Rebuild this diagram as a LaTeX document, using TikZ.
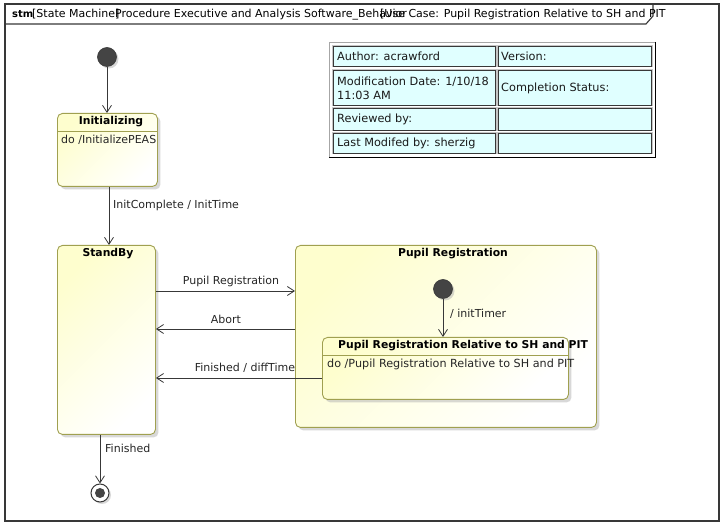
\documentclass[tikz,border=0pt]{standalone}
\usepackage{fontspec}
\setmainfont{DejaVu Sans}
\newfontfamily\thinfont{DejaVu Sans}
\usetikzlibrary{arrows.meta,shadows,calc}
\definecolor{statey}{HTML}{FEFECE}
\definecolor{stateb}{HTML}{A0A050}
\definecolor{linec}{HTML}{383838}
\definecolor{cellc}{HTML}{E0FFFF}
\definecolor{dotc}{HTML}{444444}
\begin{document}
\begin{tikzpicture}[x=1pt,y=-1pt,
  statebox/.style={draw=stateb, line width=0.9pt, rounded corners=5pt,
    top color=statey, bottom color=white, shading angle=45,
    drop shadow={shadow xshift=3pt, shadow yshift=-3pt, fill=black!30, opacity=0.5},
    inner sep=0pt, anchor=north west},
  initdot/.style={circle, fill=dotc, draw=linec, line width=0.6pt, minimum size=19pt, inner sep=0pt,
    drop shadow={shadow xshift=2pt, shadow yshift=-2pt, fill=black!30, opacity=0.5}},
  finalout/.style={circle, fill=white, draw=linec, line width=1pt, minimum size=18pt, inner sep=0pt,
    drop shadow={shadow xshift=2pt, shadow yshift=-2pt, fill=black!30, opacity=0.5}},
  finalin/.style={circle, fill=dotc, minimum size=10pt, inner sep=0pt},
  tr/.style={draw=linec, line width=0.8pt, -{Straight Barb[length=7pt,width=9pt]}},
  lbl/.style={font=\fontsize{11}{13}\selectfont, inner sep=0pt, text=black!85},
  ttl/.style={font=\bfseries\fontsize{10.8}{12}\selectfont, inner sep=0pt},
  sep/.style={draw=stateb, line width=0.8pt},
  hdr/.style={font=\fontsize{11}{13}\selectfont, inner sep=0pt, anchor=base west},
  frame/.style={draw=linec, line width=1.1pt},
  cell/.style={draw=linec, fill=cellc, line width=0.8pt, inner sep=0pt, anchor=north west,
    preaction={draw=gray!45, line width=2.2pt}},
  tbltxt/.style={font=\thinfont\fontsize{11.3}{14}\selectfont, anchor=west, inner sep=0pt, align=left, text=black!90}
]
\useasboundingbox (0,0) rectangle (724,526);
\fill[white] (0,0) rectangle (724,526);

% frame and header
\draw[frame] (5,4) rectangle (719,521);
\draw[frame] (5,24) -- (646,24) -- (653,16) -- (653,4);
\node[hdr, font=\bfseries\fontsize{10}{12}\selectfont] (stm) at (12,18) {stm};
\node[hdr] (h1) at (32,18) {[State Machine]};
\node[hdr] (h2) at (115,18) {Procedure Executive and Analysis Software\_Behavior};
\node[hdr] (h3) at (380,18) {[Use Case: Pupil Registration Relative to SH and PIT};

% info table
\node[fill=white, minimum width=326pt, minimum height=115pt, inner sep=0pt, anchor=north west] (tbl) at (329,42) {};
\draw[gray!70, line width=0.8pt] (tbl.south west) -- (tbl.north west) -- (tbl.north east);
\draw[black, line width=1pt] (tbl.north east) -- (tbl.south east) -- (tbl.south west);
\node[cell, minimum width=162pt, minimum height=20pt] (c11) at (333,46) {};
\node[cell, minimum width=153pt, minimum height=20pt] (c12) at (498,46) {};
\node[cell, minimum width=162pt, minimum height=35pt] (c21) at (333,70) {};
\node[cell, minimum width=153pt, minimum height=35pt] (c22) at (498,70) {};
\node[cell, minimum width=162pt, minimum height=22pt] (c31) at (333,108) {};
\node[cell, minimum width=153pt, minimum height=22pt] (c32) at (498,108) {};
\node[cell, minimum width=162pt, minimum height=20pt] (c41) at (333,133) {};
\node[cell, minimum width=153pt, minimum height=20pt] (c42) at (498,133) {};
\node[tbltxt] (t11) at ($(c11.west)+(4,0)$) {Author: acrawford};
\node[tbltxt] (t12) at ($(c12.west)+(3,0)$) {Version:};
\node[tbltxt] (t21) at ($(c21.west)+(4,0)$) {Modification Date: 1/10/18\\11:03 AM};
\node[tbltxt] (t22) at ($(c22.west)+(3,0)$) {Completion Status:};
\node[tbltxt] (t31) at ($(c31.west)+(4,0)$) {Reviewed by:};
\node[tbltxt] (t41) at ($(c41.west)+(4,0)$) {Last Modifed by: sherzig};

% states
\node[initdot] (i1) at (107,57) {};
\node[statebox, minimum width=100pt, minimum height=73pt] (initz) at (57,113) {};
\node[ttl] (initzt) at (111,122) {Initializing};
\draw[sep] (initz.west |- 0,131) -- (initz.east |- 0,131);
\node[lbl, anchor=west] (initzd) at (61,140) {do /InitializePEAS};

\node[statebox, minimum width=98pt, minimum height=189pt] (sb) at (57,245) {};
\node[ttl] (sbt) at (108,254) {StandBy};

\node[statebox, minimum width=301pt, minimum height=182pt] (pr) at (295,245) {};
\node[ttl] (prt) at (453,254) {Pupil Registration};
\node[initdot] (i2) at (443,289) {};
\node[statebox, minimum width=246pt, minimum height=62pt] (rel) at (322,337) {};
\node[ttl, anchor=west] (relt) at (338,346) {Pupil Registration Relative to SH and PIT};
\draw[sep] (rel.west |- 0,355) -- (rel.east |- 0,355);
\node[lbl, anchor=west, font=\fontsize{11.2}{13}\selectfont] (reld) at (327,364) {do /Pupil Registration Relative to SH and PIT};

\node[finalout] (fin) at (100,493) {};
\node[finalin] (find) at (fin) {};

% transitions
\draw[tr] (i1) -- (initz.north -| i1);
\draw[tr] (initz.south -| 109,0) -- (sb.north -| 109,0);
\node[lbl, anchor=west] (l1) at (113,205) {InitComplete / InitTime};
\draw[tr] (sb.east |- 0,291) -- (pr.west |- 0,291);
\node[lbl] (l2) at (231,281) {Pupil Registration};
\draw[tr] (pr.west |- 0,329) -- (sb.east |- 0,329);
\node[lbl] (l3) at (226,319) {Abort};
\draw[tr] (rel.west |- 0,378) -- (sb.east |- 0,378);
\node[lbl] (l4) at (245,368) {Finished / diffTime};
\draw[tr] (i2) -- (rel.north -| i2);
\node[lbl, anchor=west] (l5) at (450,314) {/ initTimer};
\draw[tr] (sb.south -| 100,0) -- (fin);
\node[lbl, anchor=west] (l6) at (105,448) {Finished};
\end{tikzpicture}
\end{document}
